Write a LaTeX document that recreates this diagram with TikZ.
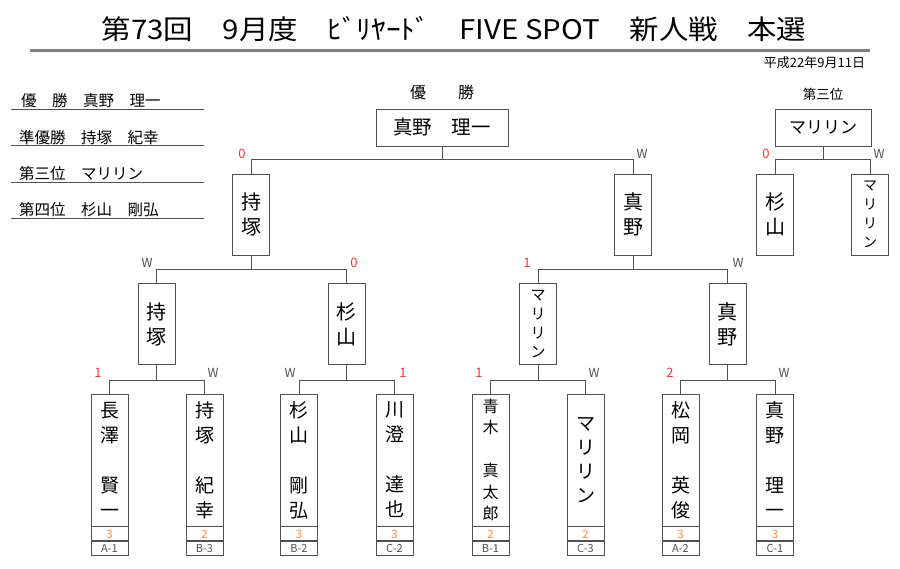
\documentclass[tikz,border=0pt]{standalone}
\usepackage{fontspec}
\setmainfont{Noto Sans CJK JP}
\definecolor{ln}{HTML}{505050}
\definecolor{sc}{HTML}{FF3030}
\definecolor{orng}{HTML}{FF8A40}
\definecolor{tl}{HTML}{808080}
\newcommand{\fs}[2]{\fontsize{#1}{#2}\selectfont}
\begin{document}
\begin{tikzpicture}[x=1pt,y=-1pt,
  box/.style={draw=ln, line width=0.9pt, inner sep=0pt, fill=white, align=center},
  tbox/.style={box, minimum width=37pt, minimum height=81pt, font=\fs{20}{25}},
  nbox/.style={box, minimum width=37pt, minimum height=132pt, font=\fs{19}{25}},
  srow/.style={box, minimum width=37pt, minimum height=14pt, font=\fs{11.5}{11.5}, text=orng},
  crow/.style={box, minimum width=37pt, minimum height=14pt, font=\fs{11}{11}, text=ln},
  wlab/.style={inner sep=0pt, font=\fs{12.5}{12.5}, text=ln},
  nlab/.style={inner sep=0pt, font=\fs{13}{13}, text=sc},
  conn/.style={draw=ln, line width=0.9pt},
  ul/.style={draw=ln, line width=0.8pt},
  lst/.style={inner sep=0pt, anchor=west, font=\fs{15.5}{16}}]
\useasboundingbox (0,0) rectangle (900,568);
% title
\node[inner sep=0pt, font=\fs{27}{27}] (title) at (454,29) {\scalebox{1.09}[1]{第73回　9月度　ﾋﾞﾘﾔｰﾄﾞ　FIVE SPOT　新人戦　本選}};
\draw[tl, line width=2.5pt] (30,50.5) -- (870,50.5);
\node[inner sep=0pt, font=\fs{13}{13}] (date) at (814.5,63) {平成22年9月11日};
% results list
\node[lst] (r1) at (21,100.5) {優　勝　真野　理一};
\node[lst] (r2) at (19,137.5) {準優勝　持塚　紀幸};
\node[lst] (r3) at (19,174) {第三位　マリリン};
\node[lst] (r4) at (19,210) {第四位　杉山　剛弘};
\draw[ul] (11,109.5) -- (204,109.5);
\draw[ul] (11,145.5) -- (204,145.5);
\draw[ul] (11,182) -- (204,182);
\draw[ul] (11,218.5) -- (204,218.5);
% champion
\node[inner sep=0pt, font=\fs{16}{16}] (champlab) at (442,92) {優　　勝};
\node[box, minimum width=132pt, minimum height=37pt, font=\fs{19.5}{20}] (champ) at (442,127.5) {真野　理一};
% third place
\node[inner sep=0pt, font=\fs{13.5}{14}] (thirdlab) at (823,94) {第三位};
\node[box, minimum width=96pt, minimum height=37pt, font=\fs{17}{18}] (third) at (823,127.5) {マリリン};
\node[tbox] (th1) at (775,214.5) {杉\\山};
\node[tbox, font=\fs{14}{19}] (th2) at (870,214.5) {マ\\リ\\リ\\ン};
% level 0
\node[tbox] (t1) at (251,214.5) {持\\塚};
\node[tbox] (t2) at (633,214.5) {真\\野};
% level 1
\node[tbox] (m1) at (156.5,324) {持\\塚};
\node[tbox] (m2) at (346.5,324) {杉\\山};
\node[tbox, font=\fs{15}{19}] (m3) at (538,324) {マ\\リ\\リ\\ン};
\node[tbox] (m4) at (727.5,324) {真\\野};
% bottom players
\node[nbox] (b1) at (109.5,460) {長\\澤\\~\\賢\\一};
\node[nbox] (b2) at (204.5,460) {持\\塚\\~\\紀\\幸};
\node[nbox] (b3) at (299,460) {杉\\山\\~\\剛\\弘};
\node[nbox] (b4) at (394.5,460) {川\\澄\\~\\達\\也};
\node[nbox, font=\fs{16}{21.5}] (b5) at (490.5,460) {青\\木\\~\\真\\太\\郎};
\node[nbox, font=\fs{19}{24}] (b6) at (585.5,460) {マ\\リ\\リ\\ン};
\node[nbox] (b7) at (680.5,460) {松\\岡\\~\\英\\俊};
\node[nbox] (b8) at (775,460) {真\\野\\~\\理\\一};
\foreach \i/\s/\c in {1/3/A-1,2/2/B-3,3/3/B-2,4/3/C-2,5/2/B-1,6/2/C-3,7/3/A-2,8/3/C-1}{
  \node[srow, anchor=north] (s\i) at (b\i.south) {\s};
  \node[crow, anchor=north] (c\i) at (s\i.south) {\c};
}
% connectors
\draw[conn] (champ.south) -- ++(0,13) coordinate (j0);
\draw[conn] (t1.north) |- (j0) -| (t2.north);
\draw[conn] (third.south) -- ++(0,13) coordinate (jt);
\draw[conn] (th1.north) |- (jt) -| (th2.north);
\draw[conn] (t1.south) -- ++(0,14) coordinate (j1);
\draw[conn] (m1.north) |- (j1) -| (m2.north);
\draw[conn] (t2.south) -- ++(0,14) coordinate (j2);
\draw[conn] (m3.north) |- (j2) -| (m4.north);
\draw[conn] (m1.south) -- ++(0,15) coordinate (k1);
\draw[conn] (b1.north) |- (k1) -| (b2.north);
\draw[conn] (m2.south) -- ++(0,15) coordinate (k2);
\draw[conn] (b3.north) |- (k2) -| (b4.north);
\draw[conn] (m3.south) -- ++(0,15) coordinate (k3);
\draw[conn] (b5.north) |- (k3) -| (b6.north);
\draw[conn] (m4.south) -- ++(0,15) coordinate (k4);
\draw[conn] (b7.north) |- (k4) -| (b8.north);
% scores on connectors
\node[nlab] (lt1) at (242,153.5) {0};
\node[wlab] (lt2) at (642,153.5) {W};
\node[nlab] (lth1) at (766,153.5) {0};
\node[wlab] (lth2) at (879,153.5) {W};
\node[wlab] (lm1) at (147,263) {W};
\node[nlab] (lm2) at (354,263) {0};
\node[nlab] (lm3) at (527,263) {1};
\node[wlab] (lm4) at (738,263) {W};
\node[nlab] (lb1) at (98,373) {1};
\node[wlab] (lb2) at (213,373) {W};
\node[wlab] (lb3) at (290,373) {W};
\node[nlab] (lb4) at (403,373) {1};
\node[nlab] (lb5) at (479,373) {1};
\node[wlab] (lb6) at (594,373) {W};
\node[nlab] (lb7) at (670,373) {2};
\node[wlab] (lb8) at (784,373) {W};
\end{tikzpicture}
\end{document}
